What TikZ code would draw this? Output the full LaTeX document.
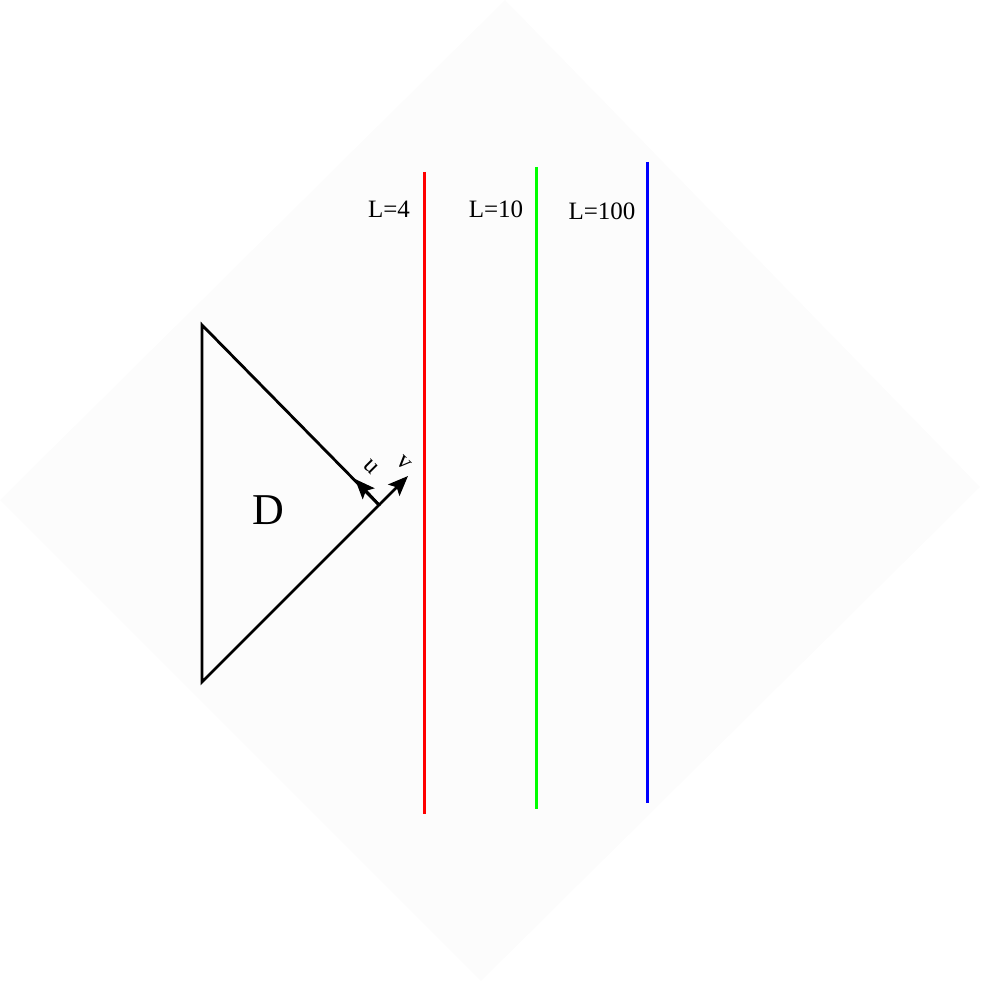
\documentclass[tikz,border=0pt]{standalone}
\usepackage{fontspec}
\setmainfont{Liberation Serif}
\usetikzlibrary{arrows.meta}
\begin{document}
\begin{tikzpicture}[x=1pt,y=-1pt, every node/.style={font=\fontsize{25}{30}\selectfont, inner sep=0pt}]
  \definecolor{bgGray}{HTML}{FCFCFC}
  \definecolor{lnRed}{HTML}{FF0000}
  \definecolor{lnGreen}{HTML}{00FF00}
  \definecolor{lnBlue}{HTML}{0000FF}
  \tikzset{wall/.style={line width=3pt}, axisarrow/.style={-{Stealth[length=20pt,width=16pt,inset=4pt]}, line width=2.8pt}}
  \useasboundingbox (0,0) rectangle (980,981);
  \fill[bgGray] (505,0) -- (980,487) -- (481,981) -- (0,500) -- cycle;
  % region D
  \coordinate (top) at (202,325);
  \coordinate (bot) at (202,682);
  \coordinate (tip) at (379,505);
  \draw[line width=2.8pt] (top) -- (tip) -- (bot) -- cycle;
  \node (D) at (268,510) {\fontsize{44}{52}\selectfont D};
  % light-cone directions at the tip
  \coordinate (uEnd) at (355,479);
  \coordinate (vEnd) at (408,476);
  \draw[axisarrow] (tip) -- (uEnd);
  \draw[axisarrow] (tip) -- (vEnd);
  \node[rotate=-45] (uLab) at (371,467) {u};
  \node[rotate=-45] (vLab) at (404,463) {v};
  % the three lines
  \coordinate (redTop) at (424,172);
  \coordinate (redBot) at (424,814);
  \coordinate (greenTop) at (536,167);
  \coordinate (greenBot) at (536,809);
  \coordinate (blueTop) at (647,162);
  \coordinate (blueBot) at (647,803);
  \draw[wall, lnRed] (redTop) -- (redBot);
  \draw[wall, lnGreen] (greenTop) -- (greenBot);
  \draw[wall, lnBlue] (blueTop) -- (blueBot);
  \node (L4) at (389,209) {L=4};
  \node (L10) at (496,209) {L=10};
  \node (L100) at (602,211) {L=100};
\end{tikzpicture}
\end{document}
